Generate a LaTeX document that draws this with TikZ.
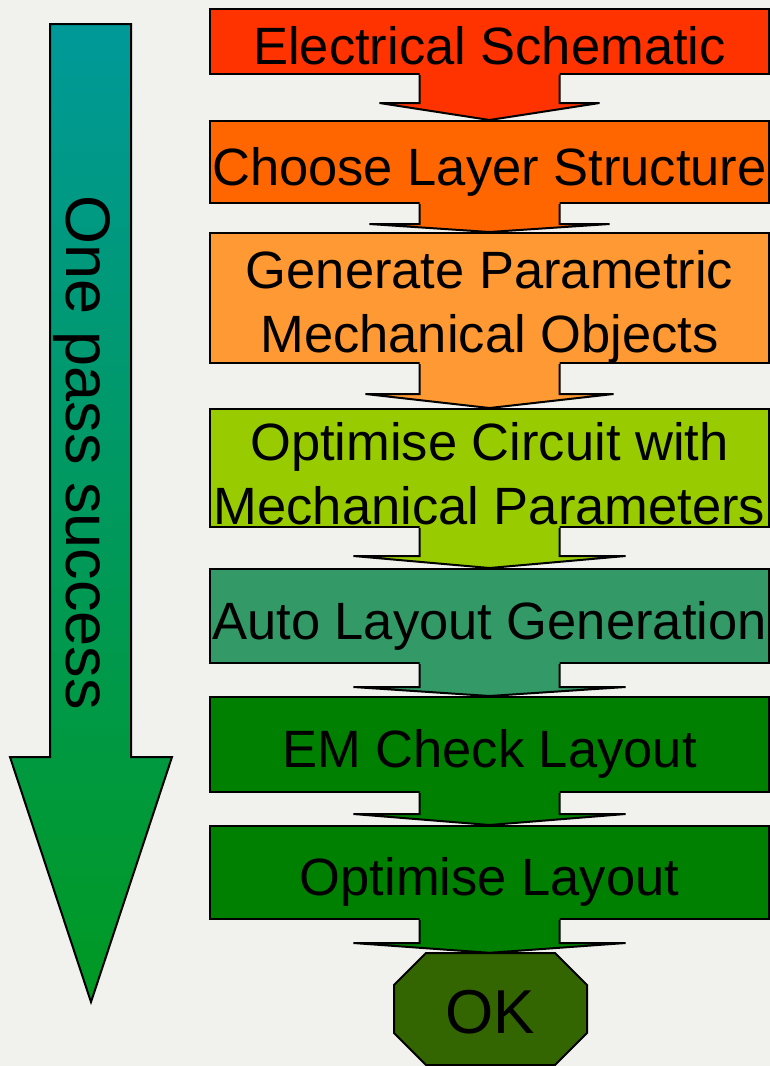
\documentclass[tikz,border=0pt]{standalone}
\usepackage{fontspec}
\setmainfont{Liberation Sans}
\usetikzlibrary{calc}

\definecolor{paper}{RGB}{241,242,238}
\definecolor{schemred}{RGB}{255,51,0}
\definecolor{layerorange}{RGB}{255,102,0}
\definecolor{paramorange}{RGB}{255,153,51}
\definecolor{circgreen}{RGB}{153,204,0}
\definecolor{autoteal}{RGB}{51,153,102}
\definecolor{emgreen}{RGB}{0,128,0}
\definecolor{okgreen}{RGB}{51,102,0}
\definecolor{passtop}{RGB}{0,153,153}
\definecolor{passbottom}{RGB}{0,153,34}

\tikzset{
  stage/.style={rectangle,draw,line width=2pt,inner sep=0pt,minimum width=559pt,
    font=\fontsize{52.5}{64}\selectfont,text height=48pt,text depth=2pt,align=center},
  flowline/.style={line width=2pt,line join=miter},
}

\begin{document}
\begin{tikzpicture}[x=1pt,y=-1pt]
\fill[paper] (0,0) rectangle (770,1066);
\useasboundingbox (0,0) rectangle (770,1066);

% one pass arrow
\draw[flowline,top color=passtop,bottom color=passbottom]
  (50,24) -- (131,24) -- (131,757) -- (172,757) -- (91,1002) -- (10,757) -- (50,757) -- cycle;
\node [rotate=-90,anchor=base,font=\fontsize{63}{70}\selectfont] (pass) at (66,452.5) {One pass success};

\node [stage,fill=schemred,minimum height=65pt] (es) at (489.5,41.5) {Electrical Schematic};
\node [stage,fill=layerorange,minimum height=82pt] (cls) at (489.5,162) {Choose Layer Structure};
\node [stage,fill=paramorange,minimum height=130pt,text height=110pt,text depth=2pt] (gpm) at (489.5,298)
  {Generate Parametric\\Mechanical Objects};
\node [stage,fill=circgreen,minimum height=118pt,text height=114pt,text depth=2pt] (ocm) at (489.5,468)
  {Optimise Circuit with\\Mechanical Parameters};
\node [stage,fill=autoteal,minimum height=94pt] (alg) at (489.5,616) {Auto Layout Generation};
\node [stage,fill=emgreen,minimum height=95pt] (emc) at (489.5,744.5) {EM Check Layout};
\node [stage,fill=emgreen,minimum height=93pt] (opl) at (489.5,872.5) {Optimise Layout};

% octagon end
\draw[flowline,fill=okgreen] (426,953) -- (555,953) -- (587,985) -- (587,1033) -- (555,1065)
  -- (426,1065) -- (394,1033) -- (394,985) -- cycle;
\node [inner sep=0pt,minimum width=193pt,minimum height=112pt,
  font=\fontsize{62}{70}\selectfont,text height=50pt,text depth=2pt] (ok) at (490.5,1009) {OK};

% block arrows
\foreach \a/\b/\d/\w/\c in {es/cls/28/110/schemred,cls/gpm/20/120/layerorange,gpm/ocm/30/124/paramorange,
  ocm/alg/28/136/circgreen,alg/emc/23/136/autoteal,emc/opl/21/136/emgreen,opl/ok/23/136/emgreen}{
  \fill[\c] ($(\a.south)+(-70,-2)$) -- ($(\a.south)+(-70,\d)$) -- ($(\a.south)+(-\w,\d)$) -- (\a.south |- \b.north)
    -- ($(\a.south)+(\w,\d)$) -- ($(\a.south)+(70,\d)$) -- ($(\a.south)+(70,-2)$) -- cycle;
  \draw[flowline] ($(\a.south)+(-70,0)$) -- ($(\a.south)+(-70,\d)$) -- ($(\a.south)+(-\w,\d)$) -- (\a.south |- \b.north)
    -- ($(\a.south)+(\w,\d)$) -- ($(\a.south)+(70,\d)$) -- ($(\a.south)+(70,0)$);
}
\end{tikzpicture}
\end{document}
